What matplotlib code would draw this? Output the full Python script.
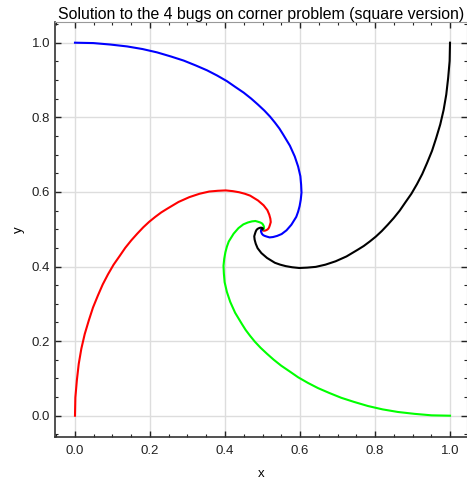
import matplotlib
matplotlib.use('agg')
import matplotlib.pyplot as plt
from matplotlib.ticker import MultipleLocator

plt.rcParams['font.family'] = ['Liberation Sans', 'DejaVu Sans']

# Bug paths (start corner -> centre)
red_x = [0.000, 0.001, 0.005, 0.010, 0.017, 0.026, 0.037, 0.048, 0.061, 0.074, 0.088, 0.103,
         0.119, 0.134, 0.150, 0.166, 0.182, 0.198, 0.214, 0.230, 0.246, 0.276, 0.305, 0.332,
         0.358, 0.381, 0.402, 0.421, 0.438, 0.453, 0.467, 0.488, 0.503, 0.513, 0.518, 0.521,
         0.522, 0.520, 0.518, 0.516, 0.513, 0.509, 0.506, 0.502, 0.500, 0.499, 0.500]
red_y = [0.000, 0.049, 0.095, 0.139, 0.180, 0.219, 0.256, 0.290, 0.322, 0.352, 0.379, 0.405,
         0.428, 0.450, 0.470, 0.488, 0.505, 0.520, 0.533, 0.545, 0.555, 0.573, 0.586, 0.595,
         0.601, 0.603, 0.604, 0.602, 0.599, 0.595, 0.590, 0.577, 0.564, 0.551, 0.539, 0.528,
         0.519, 0.512, 0.506, 0.502, 0.499, 0.497, 0.496, 0.496, 0.497, 0.498, 0.500]

blue_x = [0.000, 0.049, 0.095, 0.139, 0.180, 0.219, 0.256, 0.290, 0.322, 0.352, 0.379, 0.405,
          0.428, 0.450, 0.470, 0.488, 0.505, 0.520, 0.533, 0.545, 0.555, 0.573, 0.586, 0.595,
          0.601, 0.603, 0.604, 0.602, 0.599, 0.595, 0.590, 0.577, 0.564, 0.551, 0.539, 0.528,
          0.519, 0.512, 0.506, 0.502, 0.499, 0.497, 0.496, 0.496, 0.497, 0.498, 0.500]
blue_y = [1.000, 0.999, 0.995, 0.990, 0.983, 0.974, 0.963, 0.952, 0.939, 0.926, 0.912, 0.897,
          0.881, 0.866, 0.850, 0.834, 0.818, 0.802, 0.786, 0.770, 0.754, 0.724, 0.695, 0.668,
          0.642, 0.619, 0.598, 0.579, 0.562, 0.547, 0.533, 0.512, 0.497, 0.487, 0.482, 0.479,
          0.478, 0.480, 0.482, 0.484, 0.487, 0.491, 0.494, 0.498, 0.500, 0.501, 0.500]

black_x = [1.000, 0.999, 0.995, 0.990, 0.983, 0.974, 0.963, 0.952, 0.939, 0.926, 0.912, 0.897,
           0.881, 0.866, 0.850, 0.834, 0.818, 0.802, 0.786, 0.770, 0.754, 0.724, 0.695, 0.668,
           0.642, 0.619, 0.598, 0.579, 0.562, 0.547, 0.533, 0.512, 0.497, 0.487, 0.482, 0.479,
           0.478, 0.480, 0.482, 0.484, 0.487, 0.491, 0.494, 0.498, 0.500, 0.501, 0.500]
black_y = [1.000, 0.951, 0.905, 0.861, 0.820, 0.781, 0.744, 0.710, 0.678, 0.648, 0.621, 0.595,
           0.572, 0.550, 0.530, 0.512, 0.495, 0.480, 0.467, 0.455, 0.445, 0.427, 0.414, 0.405,
           0.399, 0.397, 0.396, 0.398, 0.401, 0.405, 0.410, 0.423, 0.436, 0.449, 0.461, 0.472,
           0.481, 0.488, 0.494, 0.498, 0.501, 0.503, 0.504, 0.504, 0.503, 0.502, 0.500]

green_x = [1.000, 0.951, 0.905, 0.861, 0.820, 0.781, 0.744, 0.710, 0.678, 0.648, 0.621, 0.595,
           0.572, 0.550, 0.530, 0.512, 0.495, 0.480, 0.467, 0.455, 0.445, 0.427, 0.414, 0.405,
           0.399, 0.397, 0.396, 0.398, 0.401, 0.405, 0.410, 0.423, 0.436, 0.449, 0.461, 0.472,
           0.481, 0.488, 0.494, 0.498, 0.501, 0.503, 0.504, 0.504, 0.503, 0.502, 0.500]
green_y = [0.000, 0.001, 0.005, 0.010, 0.017, 0.026, 0.037, 0.048, 0.061, 0.074, 0.088, 0.103,
           0.119, 0.134, 0.150, 0.166, 0.182, 0.198, 0.214, 0.230, 0.246, 0.276, 0.305, 0.332,
           0.358, 0.381, 0.402, 0.421, 0.438, 0.453, 0.467, 0.488, 0.503, 0.513, 0.518, 0.521,
           0.522, 0.520, 0.518, 0.516, 0.513, 0.509, 0.506, 0.502, 0.500, 0.499, 0.500]

fig = plt.figure(figsize=(4.67, 4.84), dpi=100)
ax = fig.add_axes([55 / 467, 47 / 484, 412 / 467, 415 / 484])

ax.plot(red_x, red_y, color='#ff0000', lw=1.5)
ax.plot(green_x, green_y, color='#00ff00', lw=1.5)
ax.plot(blue_x, blue_y, color='#0000ff', lw=1.5)
ax.plot(black_x, black_y, color='black', lw=1.5)

ax.set_xlim(-0.0533, 1.0453)
ax.set_ylim(-0.0571, 1.0555)

ax.xaxis.set_major_locator(MultipleLocator(0.2))
ax.yaxis.set_major_locator(MultipleLocator(0.2))
ax.xaxis.set_minor_locator(MultipleLocator(0.05))
ax.yaxis.set_minor_locator(MultipleLocator(0.05))
ax.grid(True, which='major', color='#dddddd', lw=1)
ax.set_axisbelow(True)

ax.tick_params(which='both', direction='in', top=True, right=True, labelsize=9.5, colors='#222222')
ax.tick_params(which='major', length=4, width=1)
ax.tick_params(which='minor', length=2.5, width=0.8)
ax.tick_params(axis='x', which='major', pad=6)
for s in ['left', 'bottom']:
    ax.spines[s].set_color('#333333')
    ax.spines[s].set_linewidth(1.2)
for s in ['top', 'right']:
    ax.spines[s].set_color('#999999')

ax.set_xlabel('x', fontsize=9.5, labelpad=8)
ax.set_ylabel('y', fontsize=9.5, labelpad=5)
ax.set_title('Solution to the 4 bugs on corner problem (square version)', fontsize=11.4, pad=2)

plt.savefig('out.png', dpi=100)
